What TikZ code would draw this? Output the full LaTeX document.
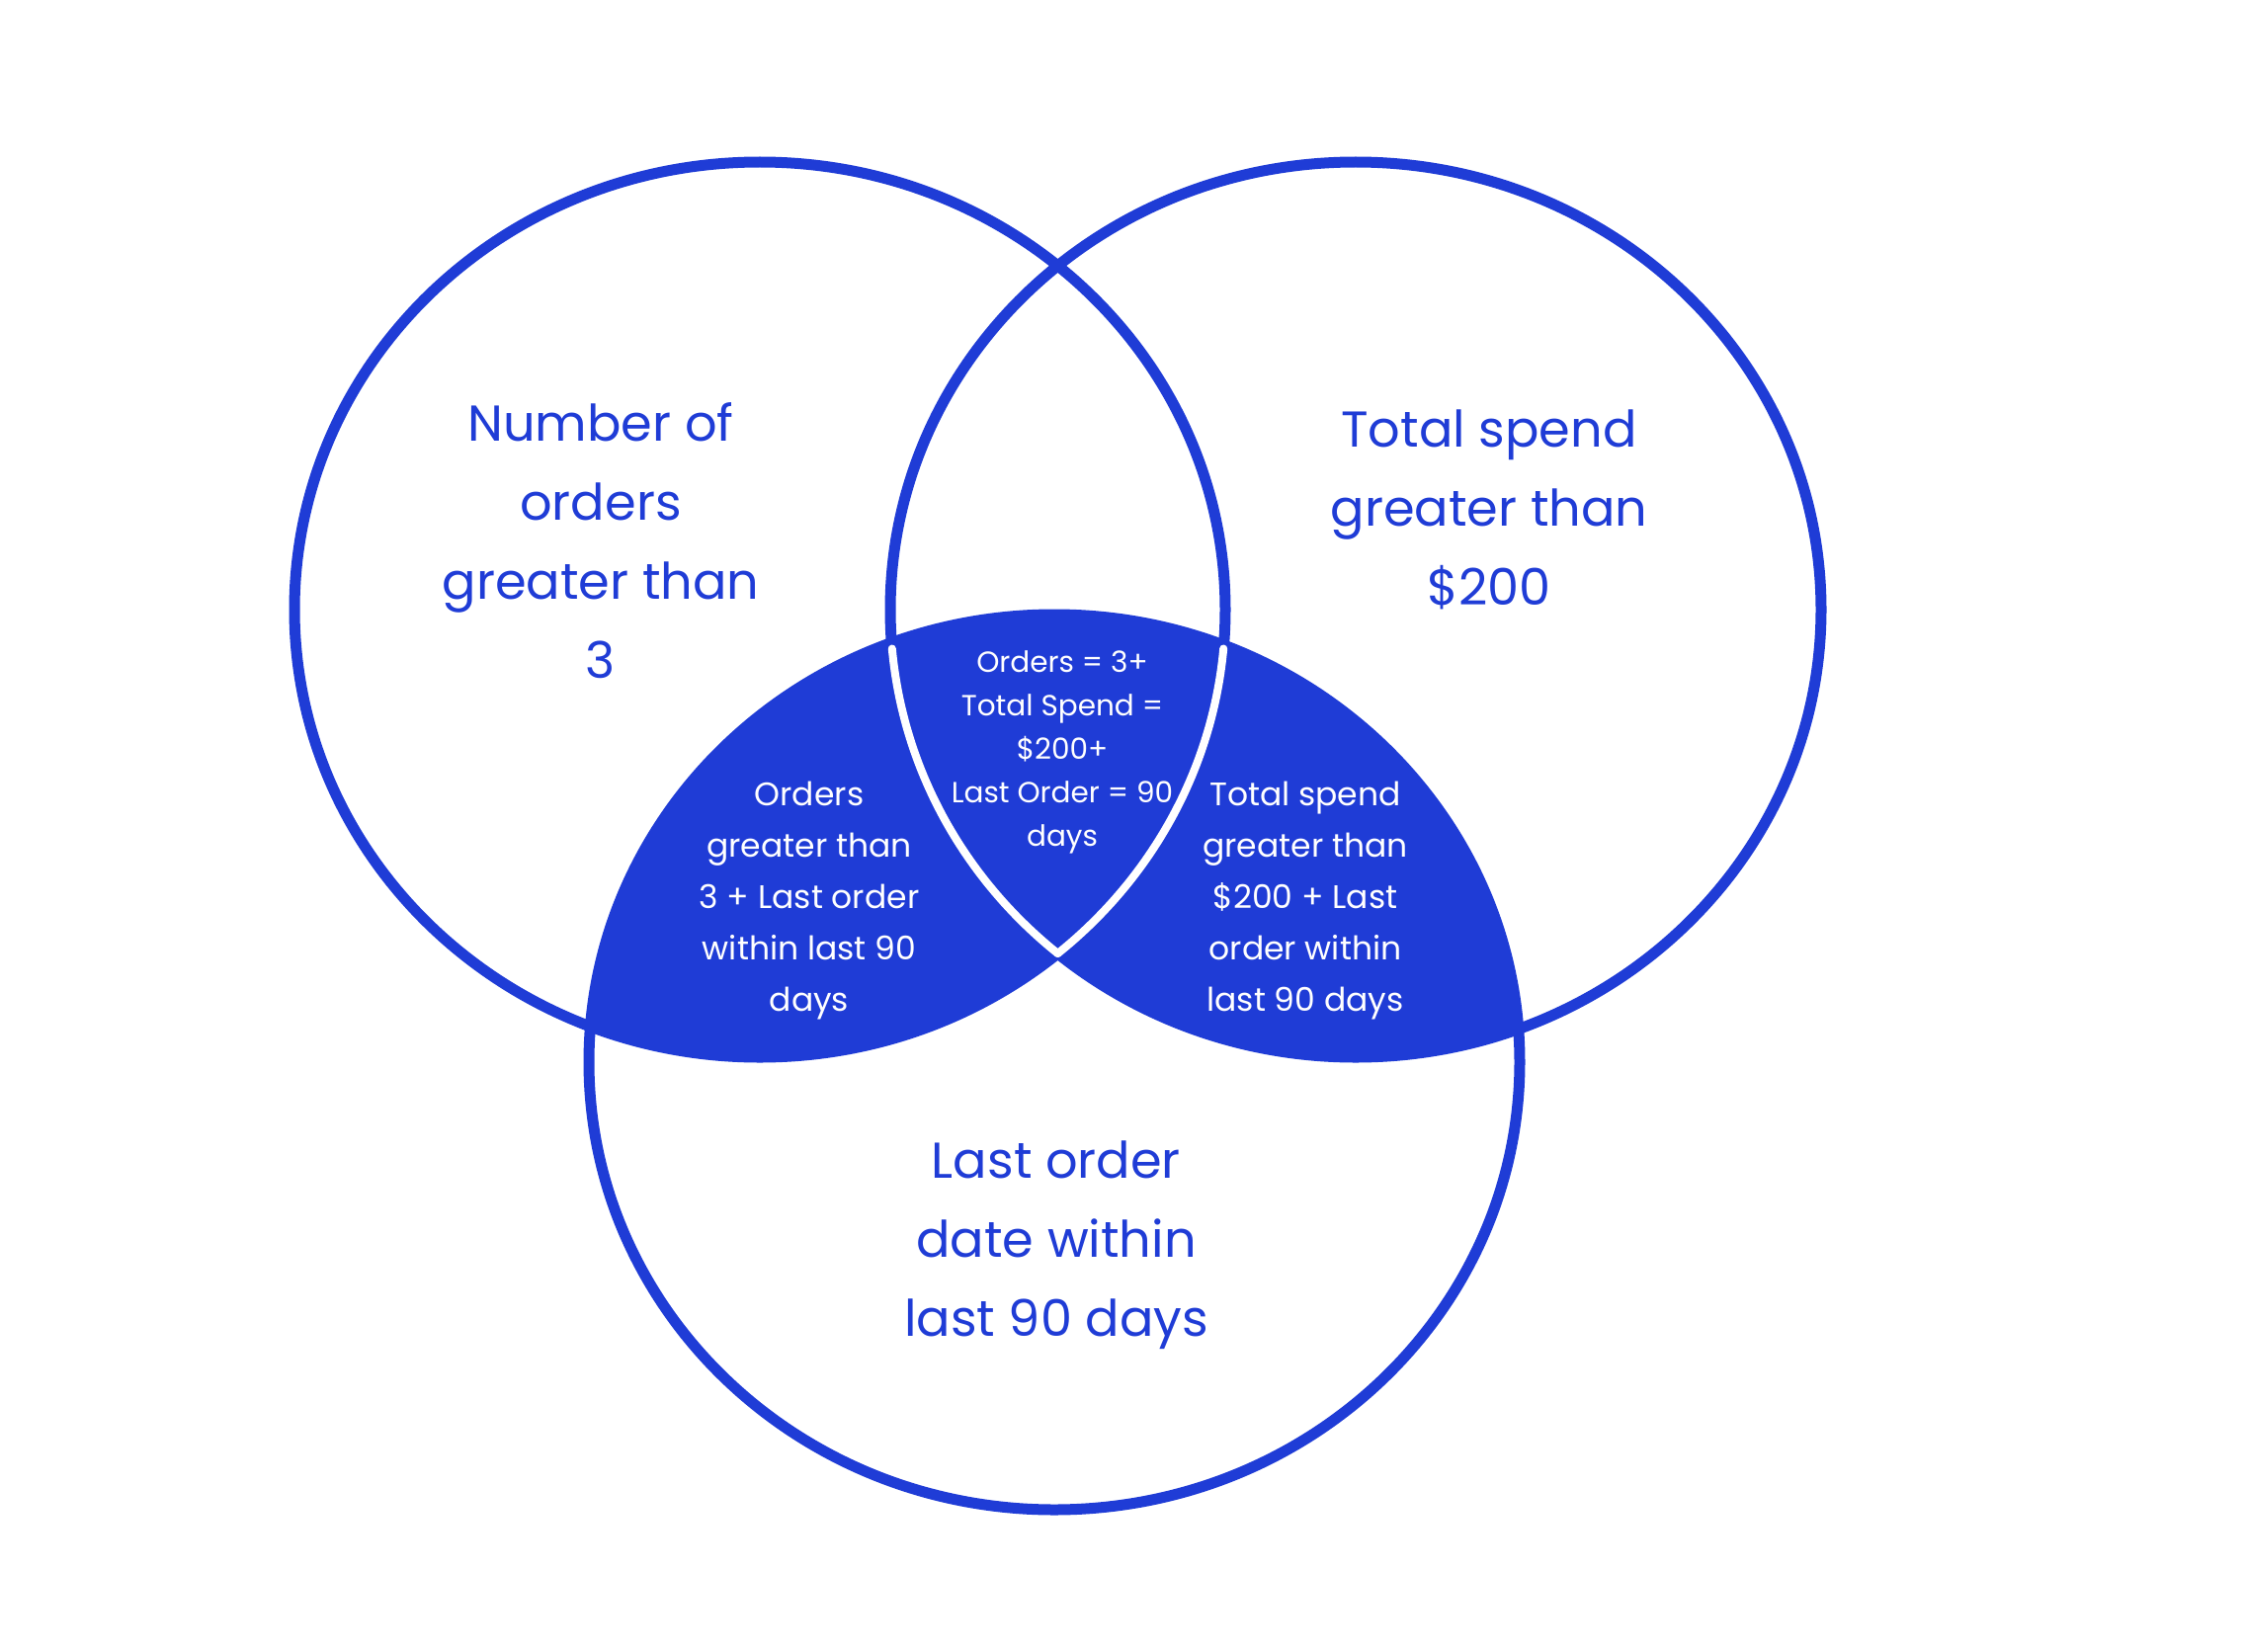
\documentclass[tikz,border=0pt]{standalone}
\usepackage{fontspec}
\setmainfont{Poppins}
\definecolor{vblue}{RGB}{31,60,214}
\begin{document}
\begin{tikzpicture}[x=1pt,y=-1pt]
\tikzset{
  ring/.style={draw=vblue, line width=11pt},
  bigtxt/.style={text=vblue, align=center, inner sep=0pt, font=\fontsize{51}{80}\selectfont},
  lenstxt/.style={text=white, align=center, inner sep=0pt, font=\fontsize{33}{52}\selectfont},
  coretxt/.style={text=white, align=center, inner sep=0pt, font=\fontsize{29.5}{44}\selectfont},
  whiteedge/.style={draw=white, line width=8pt, line cap=round},
}
\fill[white] (0,0) rectangle (2270,1672);
\useasboundingbox (0,0) rectangle (2270,1672);
% filled lenses
\begin{scope}
  \clip (1067,1075) ellipse [x radius=471pt, y radius=453pt];
  \fill[vblue] (769,617) ellipse [x radius=471pt, y radius=453pt]
               (1372,617) ellipse [x radius=471pt, y radius=453pt];
\end{scope}
% outlines
\draw[ring] (769,617) ellipse [x radius=471pt, y radius=453pt];
\draw[ring] (1372,617) ellipse [x radius=471pt, y radius=453pt];
\draw[ring] (1067,1075) ellipse [x radius=471pt, y radius=453pt];
% white edges of the central region
\draw[whiteedge] plot[domain=175:129.8, samples=60] ({1372+471*cos(\x)},{617+453*sin(\x)});
\draw[whiteedge] plot[domain=5:50.2, samples=60] ({769+471*cos(\x)},{617+453*sin(\x)});
% labels
\node[bigtxt] (lblL) at (608,547) {Number of\\orders\\greater than\\3};
\node[bigtxt] (lblR) at (1507,516) {Total spend\\greater than\\\$200};
\node[bigtxt] (lblB) at (1069,1260) {Last order\\date within\\last 90 days};
\node[lenstxt] (lensL) at (819,912) {Orders\\greater than\\3 + Last order\\within last 90\\days};
\node[lenstxt] (lensR) at (1321,912) {Total spend\\greater than\\\$200 + Last\\order within\\last 90 days};
\node[coretxt] (core) at (1075,761) {Orders = 3+\\Total Spend =\\\$200+\\Last Order = 90\\days};
\end{tikzpicture}
\end{document}
